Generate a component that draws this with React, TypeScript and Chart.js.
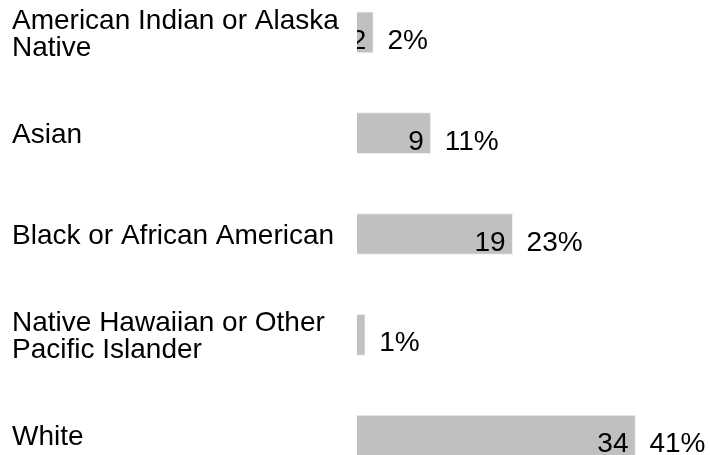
import React, { useEffect, useRef } from "react";
import { Chart, registerables } from "chart.js";

Chart.register(...registerables);

const categories: (string | string[])[] = [
  ["American Indian or Alaska", "Native"],
  "Asian",
  "Black or African American",
  ["Native Hawaiian or Other", "Pacific Islander"],
  "White",
];
const counts = [2, 9, 19, 1, 34];
const percentLabels = ["2%", "11%", "23%", "1%", "41%"];

const FONT = "'Liberation Sans', Arial, sans-serif";

const labelPlugin = {
  id: "barLabels",
  afterDatasetsDraw(chart: any) {
    const { ctx, chartArea } = chart;
    const meta = chart.getDatasetMeta(0);
    ctx.save();
    ctx.font = `28px ${FONT}`;
    ctx.fillStyle = "#000";
    ctx.textBaseline = "alphabetic";
    meta.data.forEach((bar: any, i: number) => {
      const y = bar.y + 16.5;
      // value inside bar, clipped to chart area
      ctx.save();
      ctx.beginPath();
      ctx.rect(chartArea.left, chartArea.top, chartArea.right - chartArea.left, chartArea.bottom - chartArea.top);
      ctx.clip();
      ctx.textAlign = "right";
      ctx.fillText(String(counts[i]), bar.x - 7, y);
      ctx.restore();
      // percent outside bar
      ctx.textAlign = "left";
      ctx.fillText(percentLabels[i], bar.x + 14, y);
    });
    ctx.restore();
  },
};

export default function App() {
  const ref = useRef<HTMLCanvasElement | null>(null);
  useEffect(() => {
    if (!ref.current) return;
    const chart = new Chart(ref.current, {
      type: "bar",
      data: {
        labels: categories,
        datasets: [
          {
            data: counts,
            backgroundColor: "#c0c0c0",
            borderColor: "#eeeeee",
            borderWidth: 1,
            barThickness: 41,
          },
        ],
      },
      options: {
        indexAxis: "y",
        animation: false,
        responsive: false,
        events: [],
        layout: { padding: { left: 12, right: 9, top: 22, bottom: 14 } },
        plugins: {
          legend: { display: false },
          tooltip: { enabled: false },
          title: { display: false },
        },
        scales: {
          x: { display: false, min: 0, max: 42 },
          y: {
            grid: { display: false, drawTicks: false },
            border: { display: false },
            afterFit: (scale: any) => {
              scale.width = 345;
              scale.paddingTop = 0;
              scale.paddingBottom = 0;
            },
            ticks: {
              crossAlign: "far",
              padding: 0,
              labelOffset: 2,
              color: "#000",
              font: { family: FONT, size: 28, lineHeight: 0.96 },
            },
          },
        },
      },
      plugins: [labelPlugin],
    });
    return () => chart.destroy();
  }, []);
  return (
    <div
      style={{
        position: "fixed",
        left: 0,
        top: 0,
        width: 710,
        height: 455,
        overflow: "hidden",
        background: "#fff",
      }}
    >
      <canvas
        ref={ref}
        width={710}
        height={540}
        style={{ position: "absolute", left: 0, top: -40, width: 710, height: 540 }}
      />
    </div>
  );
}
